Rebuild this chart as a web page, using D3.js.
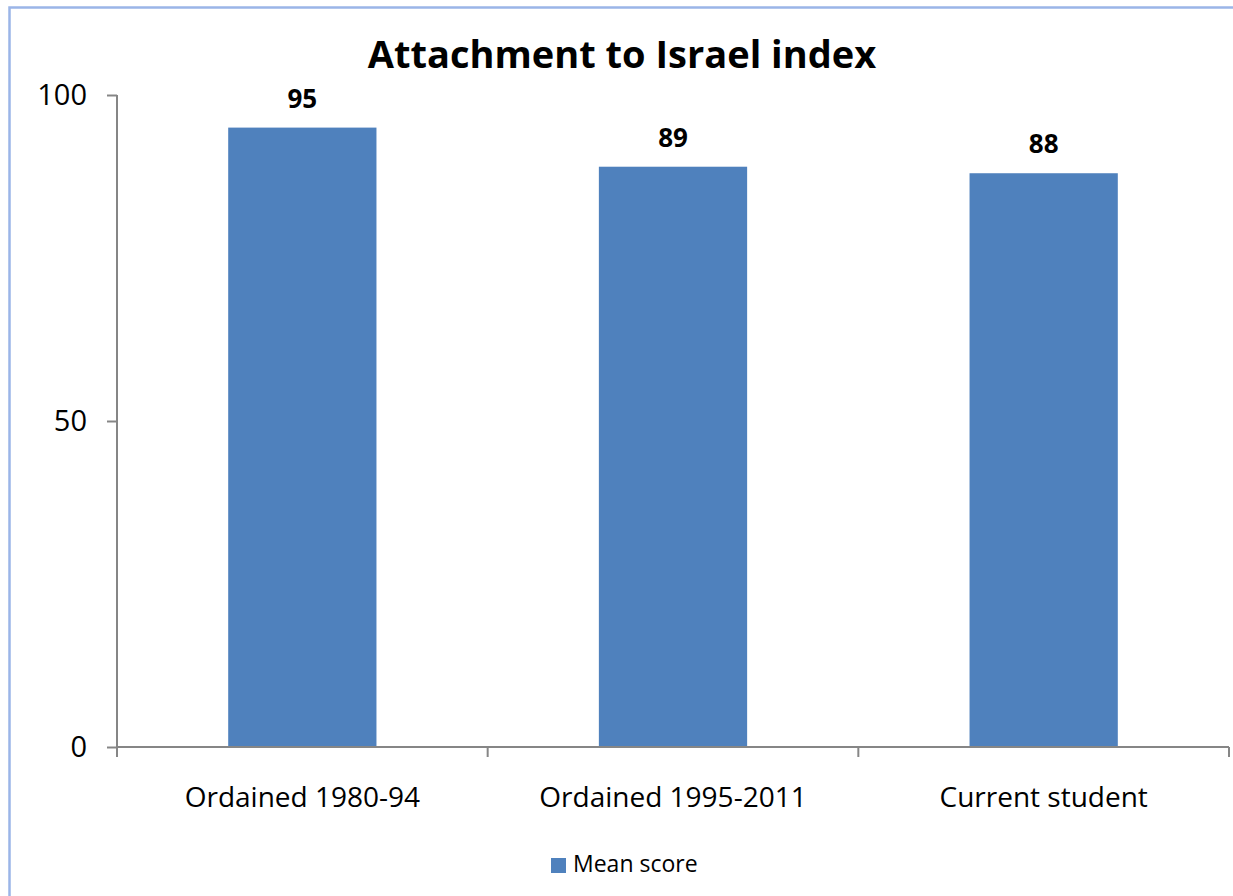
<!DOCTYPE html>
<html><head><meta charset="utf-8">
<script src="https://cdn.jsdelivr.net/npm/d3@7"></script>
<style>body{margin:0;background:#fff}svg{display:block}</style>
</head><body>
<svg id="c" width="1233" height="896"></svg>
<script>
const categories = ["Ordained 1980-94", "Ordained 1995-2011", "Current student"];
const values = [95, 89, 88];
const yTicks = [0, 50, 100];
const seriesName = "Mean score";
const chartTitle = "Attachment to Israel index";

(function () {
const svg = d3.select("#c");
const font = "'Open Sans', Lato, sans-serif";
const mLeft = 117, mRight = 1229, mTop = 95, mBottom = 747;
const barColor = "#4f81bd", axisColor = "#868686";

// outer border
svg.append("rect").attr("x", 9.5).attr("y", 7.5).attr("width", 1300).attr("height", 1000)
  .attr("fill", "none").attr("stroke", "#9bb5e8").attr("stroke-width", 2.5);

const x = d3.scaleBand().domain(categories).range([mLeft, mRight]).paddingInner(0.6).paddingOuter(0.3);
const y = d3.scaleLinear().domain([0, 100]).range([mBottom, mTop]);

// bars
svg.selectAll("rect.bar").data(values).join("rect").attr("class", "bar")
  .attr("x", (d, i) => x(categories[i])).attr("width", x.bandwidth())
  .attr("y", d => y(d)).attr("height", d => y(0) - y(d)).attr("fill", barColor);

// y axis
const ya = svg.append("g").attr("transform", `translate(${mLeft},0)`)
  .call(d3.axisLeft(y).tickValues(yTicks).tickSize(10).tickPadding(20));
ya.select(".domain").attr("stroke", axisColor).attr("stroke-width", 2).attr("d", `M0,${mTop}V${mBottom}`);
ya.selectAll(".tick line").attr("stroke", axisColor).attr("stroke-width", 2);
ya.selectAll(".tick text").attr("font-family", font).attr("font-size", 29).attr("fill", "#000");

// x axis
const xa = svg.append("g").attr("transform", `translate(0,${mBottom})`)
  .call(d3.axisBottom(x).tickSize(0).tickPadding(40));
xa.select(".domain").attr("stroke", axisColor).attr("stroke-width", 2).attr("d", `M${mLeft},0H${mRight}`);
xa.selectAll(".tick text").attr("font-family", font).attr("font-size", 28).attr("fill", "#000");
const bounds = d3.range(categories.length + 1).map(i => mLeft + (mRight - mLeft) * i / categories.length);
xa.selectAll("line.bt").data(bounds).join("line").attr("class", "bt")
  .attr("x1", d => d).attr("x2", d => d).attr("y1", 0).attr("y2", 10)
  .attr("stroke", axisColor).attr("stroke-width", 2);

// data labels
svg.selectAll("text.lbl").data(values).join("text").attr("class", "lbl")
  .attr("x", (d, i) => x(categories[i]) + x.bandwidth() / 2).attr("y", d => y(d) - 20)
  .attr("text-anchor", "middle").attr("font-family", font).attr("font-weight", "bold")
  .attr("font-size", 26).text(d => d);

// title
svg.append("text").attr("x", 622).attr("y", 68).attr("text-anchor", "middle")
  .attr("font-family", font).attr("font-weight", "bold").attr("font-size", 38).text(chartTitle);

// legend
svg.append("rect").attr("x", 551).attr("y", 858).attr("width", 15).attr("height", 15).attr("fill", barColor);
svg.append("text").attr("x", 573).attr("y", 872).attr("font-family", font).attr("font-size", 23).text(seriesName);
})();
</script>
</body></html>
